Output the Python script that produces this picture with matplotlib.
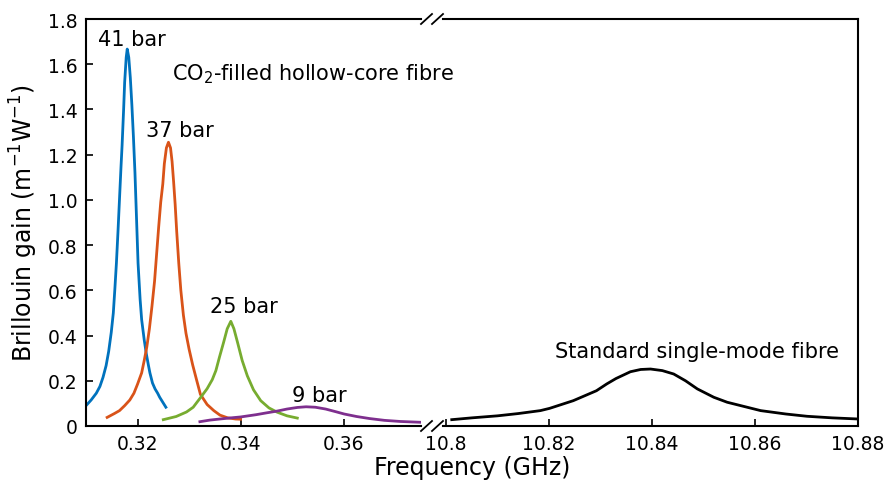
import numpy as np
import matplotlib.pyplot as plt
from matplotlib.lines import Line2D

# Brillouin gain spectra
f_41 = [0.3100, 0.3110, 0.3120, 0.3127, 0.3133, 0.3139, 0.3144, 0.3149, 0.3153, 0.3156,
        0.3159, 0.3162, 0.3165, 0.3168, 0.3170, 0.3173, 0.3175, 0.3178, 0.3180, 0.3183,
        0.3186, 0.3189, 0.3192, 0.3195, 0.3198, 0.3201, 0.3205, 0.3208, 0.3213, 0.3217,
        0.3221, 0.3224, 0.3229, 0.3234, 0.3239, 0.3243, 0.3249, 0.3255]
g_41 = [0.090, 0.115, 0.145, 0.175, 0.215, 0.267, 0.330, 0.414, 0.500, 0.606,
        0.720, 0.857, 1.004, 1.150, 1.240, 1.400, 1.520, 1.630, 1.667, 1.630,
        1.540, 1.420, 1.280, 1.120, 0.920, 0.720, 0.560, 0.470, 0.380, 0.320,
        0.270, 0.235, 0.190, 0.164, 0.145, 0.127, 0.105, 0.083]

f_37 = [0.3141, 0.3155, 0.3165, 0.3175, 0.3185, 0.3193, 0.3200, 0.3208, 0.3213, 0.3218,
        0.3223, 0.3228, 0.3233, 0.3237, 0.3241, 0.3245, 0.3249, 0.3252, 0.3256, 0.3260,
        0.3264, 0.3267, 0.3270, 0.3273, 0.3276, 0.3280, 0.3284, 0.3289, 0.3294, 0.3300,
        0.3307, 0.3315, 0.3322, 0.3335, 0.3348, 0.3360, 0.3375, 0.3390, 0.3400]
g_37 = [0.038, 0.055, 0.068, 0.090, 0.115, 0.145, 0.185, 0.235, 0.290, 0.350,
        0.430, 0.530, 0.640, 0.760, 0.880, 0.990, 1.070, 1.160, 1.230, 1.255,
        1.230, 1.170, 1.080, 0.980, 0.860, 0.720, 0.600, 0.490, 0.410, 0.340,
        0.270, 0.200, 0.140, 0.095, 0.068, 0.048, 0.036, 0.031, 0.030]

f_25 = [0.3250, 0.3275, 0.3295, 0.3308, 0.3322, 0.3335, 0.3345, 0.3352, 0.3359, 0.3367,
        0.3374, 0.3381, 0.3387, 0.3394, 0.3403, 0.3413, 0.3425, 0.3439, 0.3455, 0.3471,
        0.3490, 0.3510]
g_25 = [0.028, 0.042, 0.062, 0.083, 0.125, 0.165, 0.205, 0.245, 0.305, 0.370,
        0.430, 0.463, 0.430, 0.370, 0.290, 0.222, 0.160, 0.112, 0.080, 0.061,
        0.045, 0.035]

f_9 = [0.3321, 0.3340, 0.3360, 0.3386, 0.3400, 0.3430, 0.3450, 0.3471, 0.3490, 0.3510,
       0.3527, 0.3545, 0.3565, 0.3585, 0.3601, 0.3625, 0.3650, 0.3679, 0.3710, 0.3754]
g_9 = [0.019, 0.026, 0.031, 0.037, 0.040, 0.050, 0.058, 0.066, 0.075, 0.082,
       0.085, 0.083, 0.075, 0.063, 0.053, 0.042, 0.033, 0.025, 0.020, 0.016]

f_smf = [10.8011, 10.8050, 10.8100, 10.8140, 10.8183, 10.8201, 10.8247, 10.8292, 10.8312, 10.8330,
         10.8358, 10.8378, 10.8397, 10.8420, 10.8442, 10.8465, 10.8488, 10.8520, 10.8546, 10.8611,
         10.8660, 10.8701, 10.8750, 10.8800]
g_smf = [0.028, 0.036, 0.045, 0.055, 0.068, 0.078, 0.112, 0.156, 0.186, 0.210,
         0.240, 0.250, 0.252, 0.245, 0.230, 0.200, 0.164, 0.127, 0.105, 0.068,
         0.053, 0.043, 0.036, 0.031]

left_ticks = [0.32, 0.34, 0.36]
right_ticks = [10.8, 10.82, 10.84, 10.86, 10.88]
y_ticks = [0, 0.2, 0.4, 0.6, 0.8, 1.0, 1.2, 1.4, 1.6, 1.8]

plt.rcParams['font.family'] = ['DejaVu Sans']
plt.rcParams['mathtext.fontset'] = 'dejavusans'

W, H = 891, 489
fig = plt.figure(figsize=(W / 100, H / 100), dpi=100)
y0, y1 = 427, 20
bot = 1 - y0 / H
hgt = (y0 - y1) / H
ax1 = fig.add_axes([86 / W, bot, (421 - 86) / W, hgt])
ax2 = fig.add_axes([443 / W, bot, (858 - 443) / W, hgt], sharey=ax1)
ax2.patch.set_visible(False)  # so the left panel's label is not covered

lw = 2.0
ax1.plot(f_41, g_41, color='#0072bd', lw=lw)
ax1.plot(f_37, g_37, color='#d95319', lw=lw)
ax1.plot(f_25, g_25, color='#77ac30', lw=lw)
ax1.plot(f_9, g_9, color='#7e2f8e', lw=lw)
ax2.plot(f_smf, g_smf, color='black', lw=lw)

ax1.set_xlim(0.31, 0.375)
ax2.set_xlim(10.7994, 10.88)
ax1.set_ylim(0, 1.8)

ax1.set_xticks(left_ticks)
ax1.set_xticklabels(['0.32', '0.34', '0.36'])
ax2.set_xticks(right_ticks)
ax2.set_xticklabels(['10.8', '10.82', '10.84', '10.86', '10.88'])
ax1.set_yticks(y_ticks)
ax1.set_yticklabels(['0', '0.2', '0.4', '0.6', '0.8', '1.0', '1.2', '1.4', '1.6', '1.8'])

for ax in (ax1, ax2):
    ax.tick_params(direction='in', length=5, width=1.2, labelsize=13.5, pad=6)
    for s in ax.spines.values():
        s.set_linewidth(1.5)
ax1.spines['right'].set_visible(False)
ax2.spines['left'].set_visible(False)
ax2.tick_params(axis='y', left=False, labelleft=False)

ax1.set_ylabel('Brillouin gain (m$^{\\mathregular{-1}}$W$^{\\mathregular{-1}}$)', fontsize=17, labelpad=6)
fig.text(472 / W, 1 - 468 / H, 'Frequency (GHz)', fontsize=17, ha='center', va='center')

fs = 15
ax1.text(0.3189, 1.685, '41 bar', ha='center', va='baseline', fontsize=fs)
ax1.text(0.3282, 1.283, '37 bar', ha='center', va='baseline', fontsize=fs)
ax1.text(0.3406, 0.503, '25 bar', ha='center', va='baseline', fontsize=fs)
ax1.text(0.3553, 0.112, '9 bar', ha='center', va='baseline', fontsize=fs)
ax1.text(0.3267, 1.535, 'CO$_{\\mathregular{2}}$-filled hollow-core fibre', ha='left', va='baseline',
         fontsize=fs, clip_on=False)
ax2.text(10.8488, 0.304, 'Standard single-mode fibre', ha='center', va='baseline', fontsize=fs)

# break marks
for yc in (y1, y0):
    for xs in (421, 432):
        fig.add_artist(Line2D([xs / W, (xs + 11) / W], [1 - (yc + 5) / H, 1 - (yc - 5) / H],
                              color='black', lw=1.3))

fig.savefig('out.png', dpi=100)
